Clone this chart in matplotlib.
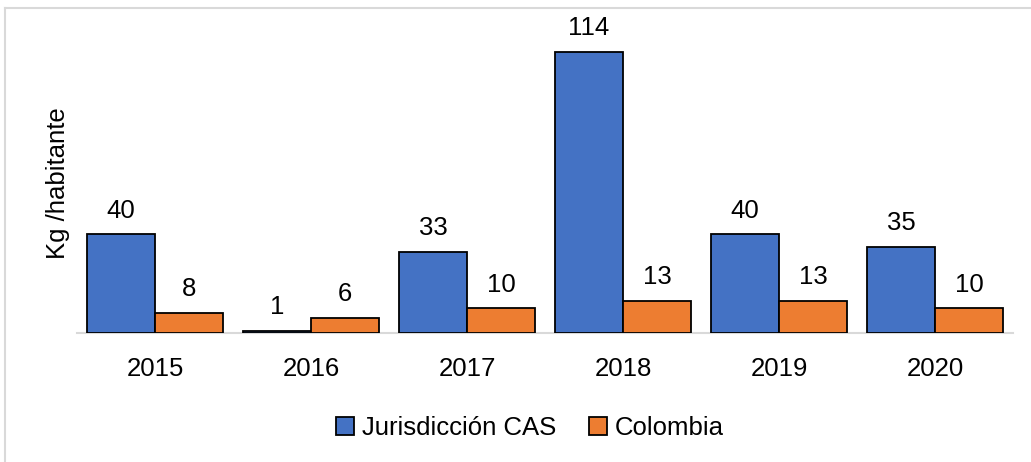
import matplotlib
matplotlib.use("Agg")
import matplotlib.pyplot as plt
import numpy as np
from matplotlib.lines import Line2D

years = ["2015", "2016", "2017", "2018", "2019", "2020"]
cas = [40, 1, 33, 114, 40, 35]
colombia = [8, 6, 10, 13, 13, 10]
series_names = ["Jurisdicción CAS", "Colombia"]
ylabel = "Kg /habitante"

blue = "#4472C4"
orange = "#ED7D31"

plt.rcParams["font.family"] = ["Liberation Sans", "DejaVu Sans"]
FS = 18.5

fig = plt.figure(figsize=(10.31, 4.62), dpi=100)
ax = fig.add_axes([77 / 1031, 1 - 333 / 462, (1013 - 77) / 1031, (333 - 20) / 462])

x = np.arange(len(years))
w = 0.435
b1 = ax.bar(x - w / 2, cas, width=w, color=blue, edgecolor="black", linewidth=1.3, label=series_names[0], zorder=3)
b2 = ax.bar(x + w / 2, colombia, width=w, color=orange, edgecolor="black", linewidth=1.3, label=series_names[1], zorder=3)

for bars, vals in ((b1, cas), (b2, colombia)):
    for r, v in zip(bars, vals):
        ax.annotate(f"{v}", (r.get_x() + r.get_width() / 2, r.get_height()),
                    xytext=(0, 8.5), textcoords="offset points", ha="center", va="bottom",
                    fontsize=FS)

ax.set_xlim(-0.5, len(years) - 0.5)
ax.set_ylim(0, 127)
ax.set_yticks([])
ax.set_xticks(x)
ax.set_xticklabels(years, fontsize=FS)
ax.tick_params(axis="x", length=0, pad=17)
for s in ("top", "right", "left"):
    ax.spines[s].set_visible(False)
ax.spines["bottom"].set_color("#D9D9D9")
ax.spines["bottom"].set_linewidth(1.5)
ax.set_ylabel(ylabel, fontsize=FS)
ax.yaxis.set_label_coords(-7 / 936, 0.48)

leg = fig.legend(handles=[b1, b2], labels=series_names, loc="center",
                 bbox_to_anchor=(530 / 1031, 1 - 428 / 462), ncol=2, frameon=False,
                 fontsize=FS, handlelength=0.7, handleheight=0.7, handletextpad=0.3,
                 columnspacing=1.3)

# light grey chart-area frame (top and left visible in the reference)
fig.add_artist(Line2D([5 / 1031, 5 / 1031], [0, 1 - 8 / 462], transform=fig.transFigure,
                      color="#D9D9D9", linewidth=1.5))
fig.add_artist(Line2D([5 / 1031, 1], [1 - 8 / 462, 1 - 8 / 462], transform=fig.transFigure,
                      color="#D9D9D9", linewidth=1.5))

fig.savefig("out.png", dpi=100)
